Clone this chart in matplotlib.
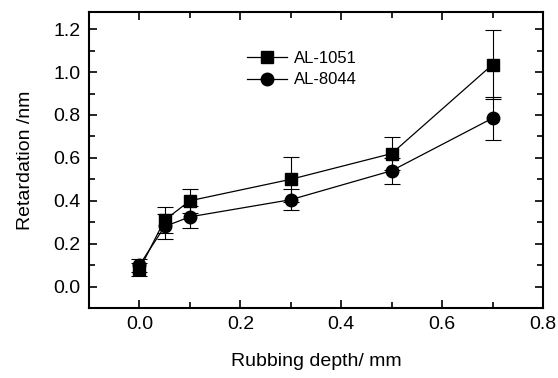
import numpy as np
from matplotlib import pyplot as plt
from matplotlib.ticker import MultipleLocator
from matplotlib.lines import Line2D

# rubbing depth (mm) and retardation (nm)
depth = [0.0, 0.05, 0.1, 0.3, 0.5, 0.7]
al1051 = [0.08, 0.31, 0.40, 0.50, 0.62, 1.035]
al1051_err = [0.03, 0.06, 0.055, 0.105, 0.075, 0.16]
al8044 = [0.10, 0.28, 0.325, 0.405, 0.54, 0.785]
al8044_err = [0.03, 0.06, 0.05, 0.05, 0.06, 0.10]

plt.rcParams['font.family'] = ['Liberation Sans', 'DejaVu Sans']

fig = plt.figure(figsize=(5.58, 3.78), dpi=100)
ax = fig.add_axes([89 / 558, 1 - 308 / 378, (543 - 89) / 558, (308 - 12) / 378])

ax.errorbar(depth, al1051, yerr=al1051_err, color='black', marker='s', ms=8.5,
            lw=0.9, elinewidth=0.8, capsize=6, capthick=0.8)
ax.errorbar(depth, al8044, yerr=al8044_err, color='black', marker='o', ms=9,
            lw=0.9, elinewidth=0.8, capsize=6, capthick=0.8)

# legend shows only line + marker, no error bars
handles = [Line2D([], [], color='black', marker='s', ms=8.5, lw=0.9),
           Line2D([], [], color='black', marker='o', ms=9, lw=0.9)]
ax.legend(handles, ['AL-1051', 'AL-8044'], loc='upper left', bbox_to_anchor=(0.315, 0.92),
          frameon=False, fontsize=12, handlelength=2.4, labelspacing=0.4,
          handletextpad=0.4)

ax.set_xlim(-0.1, 0.8)
ax.set_ylim(-0.1, 1.28)
ax.xaxis.set_major_locator(MultipleLocator(0.2))
ax.xaxis.set_minor_locator(MultipleLocator(0.1))
ax.yaxis.set_major_locator(MultipleLocator(0.2))
ax.yaxis.set_minor_locator(MultipleLocator(0.1))
ax.tick_params(which='both', direction='in', top=True, right=True, labelsize=14, width=1.2)
ax.tick_params(which='major', length=6, pad=6)
ax.tick_params(which='minor', length=4)
for s in ax.spines.values():
    s.set_linewidth(1.5)

ax.set_xlabel('Rubbing depth/ mm', fontsize=14, labelpad=14)
ax.set_ylabel('Retardation /nm', fontsize=14, labelpad=14)

fig.savefig('out.png', dpi=100)
